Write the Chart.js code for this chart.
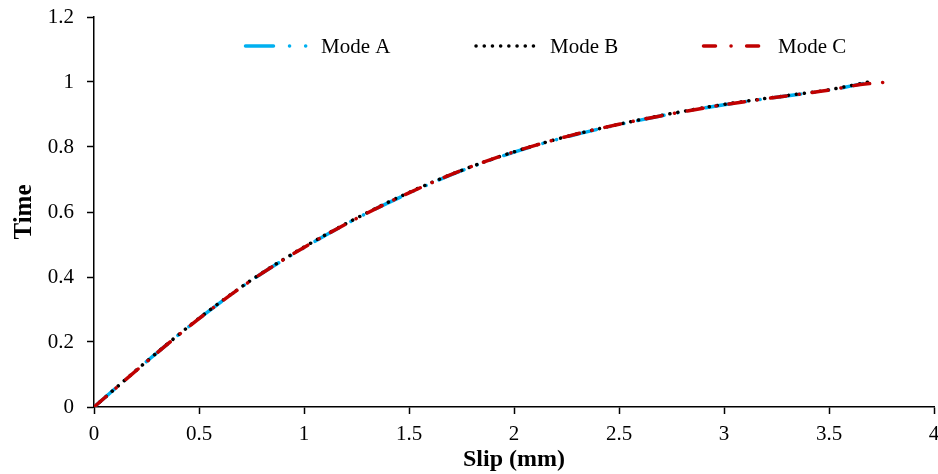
<!DOCTYPE html>
<html>
<head>
<meta charset="utf-8">
<script src="https://cdn.jsdelivr.net/npm/chart.js@4"></script>
<style>
  html, body { margin: 0; padding: 0; background: #fff; }
  #wrap { width: 938px; height: 474px; }
</style>
</head>
<body>
<div id="wrap"><canvas id="slipChart"></canvas></div>
<script>
// Slip (mm) vs Time
const slipA = [0, 0.25, 0.5, 0.75, 1, 1.25, 1.5, 1.75, 2, 2.25, 2.5, 2.75, 3, 3.25, 3.5, 3.66];
const timeA = [0, 0.14, 0.272, 0.39, 0.49, 0.58, 0.658, 0.727, 0.784, 0.831, 0.869, 0.902, 0.93, 0.953, 0.975, 0.995];

const slipB = [0, 0.25, 0.5, 0.75, 1, 1.25, 1.5, 1.75, 2, 2.25, 2.5, 2.75, 3, 3.25, 3.5, 3.69];
const timeB = [0, 0.14, 0.273, 0.391, 0.492, 0.581, 0.66, 0.728, 0.785, 0.832, 0.87, 0.903, 0.931, 0.954, 0.976, 1.0];

const slipC = [0, 0.25, 0.5, 0.75, 1, 1.25, 1.5, 1.75, 2, 2.25, 2.5, 2.75, 3, 3.25, 3.5, 3.65, 3.78];
const timeC = [0, 0.139, 0.272, 0.39, 0.491, 0.58, 0.659, 0.728, 0.785, 0.832, 0.87, 0.902, 0.93, 0.953, 0.975, 0.992, 1.0];

const seriesNames = ['Mode A', 'Mode B', 'Mode C'];
const xTicks = [0, 0.5, 1, 1.5, 2, 2.5, 3, 3.5, 4];
const yTicks = [0, 0.2, 0.4, 0.6, 0.8, 1, 1.2];

const FONT = '"Liberation Serif", "Times New Roman", serif';
const colors = ['#00B0F0', '#000000', '#C00000'];
const dashes = [[27, 14, 0.1, 14, 0.1, 14], [0.1, 7.9], [16, 13, 0.1, 13]];

function toPoints(xs, ys) {
    return xs.map((x, i) => ({ x: x, y: ys[i] }));
}

// legend drawn by hand so the dash patterns show like the original
const lineLegend = {
    id: 'lineLegend',
    afterDraw(chart) {
        const ctx = chart.ctx;
        const y = 46;
        const items = [
            { x0: 245.5, x1: 308, text: 321, dash: [28, 16, 0.1, 16, 0.1, 16] },
            { x0: 476, x1: 541, text: 550, dash: [0.1, 8.1] },
            { x0: 703.5, x1: 760, text: 778, dash: [12, 15.5, 0.1, 15.5] }
        ];
        ctx.save();
        items.forEach((it, i) => {
            ctx.beginPath();
            ctx.strokeStyle = colors[i];
            ctx.lineWidth = 3.5;
            ctx.lineCap = 'round';
            ctx.setLineDash(it.dash);
            ctx.moveTo(it.x0, y);
            ctx.lineTo(it.x1, y);
            ctx.stroke();
            ctx.setLineDash([]);
            ctx.fillStyle = '#000';
            ctx.font = '21px ' + FONT;
            ctx.textBaseline = 'middle';
            ctx.textAlign = 'left';
            ctx.fillText(seriesNames[i], it.text, y + 1);
        });
        ctx.restore();
    }
};

const ctx = document.getElementById('slipChart').getContext('2d');
const config = {
    type: 'line',
    data: {
        datasets: [
            { label: seriesNames[0], data: toPoints(slipA, timeA), order: 3 },
            { label: seriesNames[1], data: toPoints(slipB, timeB), order: 2 },
            { label: seriesNames[2], data: toPoints(slipC, timeC), order: 1 }
        ].map((d, i) => Object.assign(d, {
            borderColor: colors[i],
            borderWidth: 3.5,
            borderDash: dashes[i],
            borderCapStyle: 'round',
            pointRadius: 0,
            fill: false,
            cubicInterpolationMode: 'monotone'
        }))
    },
    options: {
        responsive: true,
        maintainAspectRatio: false,
        animation: false,
        layout: { padding: { top: 17, right: 4, left: 0, bottom: 0 } },
        scales: {
            x: {
                type: 'linear',
                min: 0,
                max: 4,
                afterBuildTicks: s => { s.ticks = xTicks.map(v => ({ value: v })); },
                afterFit: s => { s.height = 67; s.paddingLeft = 0; s.paddingRight = 0; },
                grid: { drawOnChartArea: false, drawTicks: true, tickLength: 7, tickColor: '#000', tickWidth: 1.5 },
                border: { color: '#000', width: 1.5 },
                ticks: {
                    color: '#000',
                    padding: 8,
                    font: { family: FONT, size: 21 },
                    callback: v => String(+v.toFixed(1))
                },
                title: {
                    display: true,
                    text: 'Slip (mm)',
                    color: '#000',
                    font: { family: FONT, size: 24, weight: 'bold' },
                    padding: { top: 0, bottom: 0 }
                }
            },
            y: {
                type: 'linear',
                min: 0,
                max: 1.2,
                afterBuildTicks: s => { s.ticks = yTicks.map(v => ({ value: v })); },
                afterFit: s => { s.width = 94; s.paddingTop = 0; s.paddingBottom = 0; },
                grid: { drawOnChartArea: false, drawTicks: true, tickLength: 7, tickColor: '#000', tickWidth: 1.5 },
                border: { color: '#000', width: 1.5 },
                ticks: {
                    color: '#000',
                    padding: 13,
                    font: { family: FONT, size: 21 },
                    callback: v => String(+v.toFixed(1))
                },
                title: {
                    display: true,
                    text: 'Time',
                    color: '#000',
                    font: { family: FONT, size: 25, weight: 'bold' },
                    padding: { top: 10, bottom: 0 }
                }
            }
        },
        plugins: {
            legend: { display: false },
            tooltip: { enabled: false }
        }
    },
    plugins: [lineLegend]
};
const slipChart = new Chart(ctx, config);
</script>
</body>
</html>
